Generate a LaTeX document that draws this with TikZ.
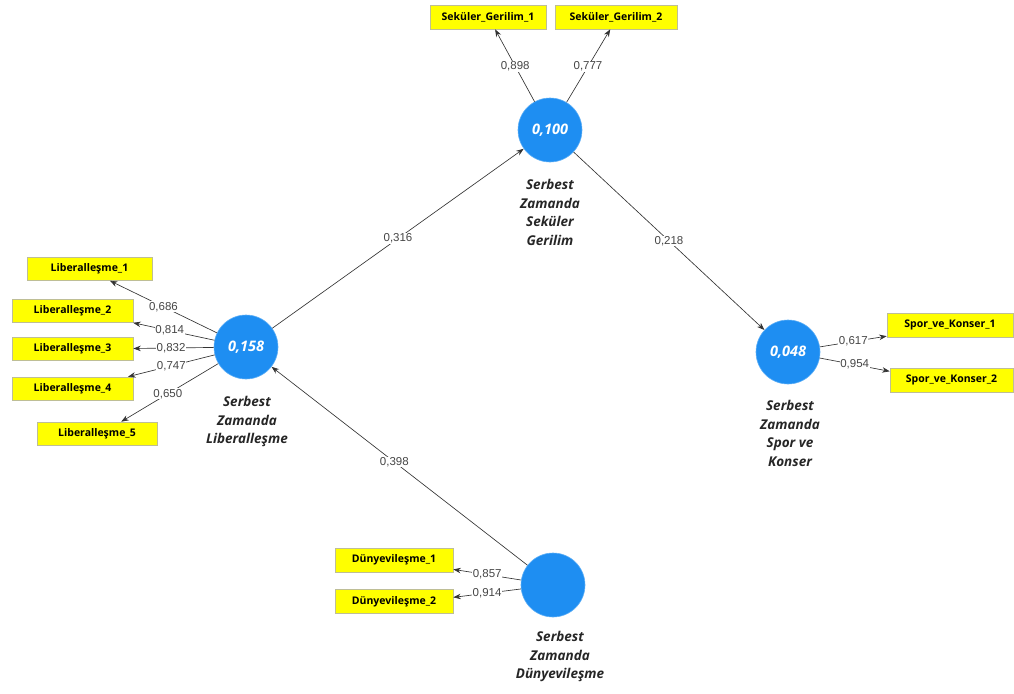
\documentclass[tikz,border=0pt]{standalone}
\usepackage{fontspec}
\usetikzlibrary{arrows.meta}
\setmainfont{Open Sans}
\newfontfamily\numfont{Liberation Sans}
\definecolor{lvblue}{RGB}{30,142,242}
\definecolor{indyel}{RGB}{255,255,0}
\definecolor{indbord}{RGB}{190,190,150}
\definecolor{coefgray}{RGB}{70,70,70}
\begin{document}
\begin{tikzpicture}[x=1pt,y=-1pt,
  latent/.style={circle,fill=lvblue,draw=lvblue!70!white,line width=0.6pt,minimum size=64pt,inner sep=0pt,
    text=white,font=\fontsize{14.5}{16}\selectfont\bfseries\itshape},
  indbox/.style={rectangle,fill=indyel,draw=indbord,line width=0.6pt,minimum height=23pt,inner sep=0pt,
    font=\fontsize{10.5}{12}\selectfont\bfseries},
  lvname/.style={align=center,font=\fontsize{13.5}{18.5}\selectfont\bfseries\itshape,text=black!85},
  coef/.style={fill=white,inner sep=0.6pt,font=\numfont\fontsize{11.5}{12}\selectfont,text=coefgray},
  arr/.style={-{Stealth[length=7.5pt,width=5.5pt]},draw=black!80,line width=0.65pt}]
\useasboundingbox (0,0) rectangle (1014,693);
% latent variables
\node[latent] (lib) at (246,347) {0,158};
\node[latent] (sek) at (550,130) {0,100};
\node[latent] (spor) at (788,352) {0,048};
\node[latent] (dun) at (553,585) {};
% latent names
\node[lvname,anchor=north] (libn) at (247,393) {Serbest\\Zamanda\\Liberalleşme};
\node[lvname,anchor=north] (sekn) at (550,176) {Serbest\\Zamanda\\Seküler\\Gerilim};
\node[lvname,anchor=north] (sporn) at (790,397) {Serbest\\Zamanda\\Spor ve\\Konser};
\node[lvname,anchor=north] (dunn) at (560,628) {Serbest\\Zamanda\\Dünyevileşme};
% indicators
\node[indbox,minimum width=125pt] (l1) at (89.5,269) {Liberalleşme\_1};
\node[indbox,minimum width=121pt] (l2) at (72.5,311) {Liberalleşme\_2};
\node[indbox,minimum width=121pt] (l3) at (72.5,348.5) {Liberalleşme\_3};
\node[indbox,minimum width=121pt] (l4) at (72.5,388.5) {Liberalleşme\_4};
\node[indbox,minimum width=120pt] (l5) at (97,433.5) {Liberalleşme\_5};
\node[indbox,minimum width=116pt,minimum height=24pt] (s1) at (488,17) {Seküler\_Gerilim\_1};
\node[indbox,minimum width=122pt,minimum height=24pt] (s2) at (616,17) {Seküler\_Gerilim\_2};
\node[indbox,minimum width=126pt,minimum height=24pt] (k1) at (950,325) {Spor\_ve\_Konser\_1};
\node[indbox,minimum width=123pt,minimum height=24pt] (k2) at (951.5,380) {Spor\_ve\_Konser\_2};
\node[indbox,minimum width=118pt,minimum height=24pt] (d1) at (394,560) {Dünyevileşme\_1};
\node[indbox,minimum width=118pt,minimum height=24pt] (d2) at (394,601.5) {Dünyevileşme\_2};
% structural paths
\draw[arr] (lib) -- node[coef,pos=0.5] {0,316} (sek);
\draw[arr] (sek) -- node[coef,pos=0.5] {0,218} (spor);
\draw[arr] (dun) -- node[coef,pos=0.52] {0,398} (lib);
% loadings
\draw[arr] (lib) -- node[coef,pos=0.5] {0,686} (l1.-30);
\draw[arr] (lib) -- node[coef,pos=0.55] {0,814} (l2.-11);
\draw[arr] (lib) -- node[coef,pos=0.53] {0,832} (l3.east);
\draw[arr] (lib) -- node[coef,pos=0.5] {0,747} (l4.12);
\draw[arr] (lib) -- node[coef,pos=0.52] {0,650} (l5.26);
\draw[arr] (sek) -- node[coef,pos=0.49] {0,898} (s1.-60);
\draw[arr] (sek) -- node[coef,pos=0.49] {0,777} (s2.-115);
\draw[arr] (spor) -- node[coef,pos=0.5] {0,617} (k1.190);
\draw[arr] (spor) -- node[coef,pos=0.5] {0,954} (k2.172);
\draw[arr] (dun) -- node[coef,pos=0.5] {0,857} (d1.-9);
\draw[arr] (dun) -- node[coef,pos=0.5] {0,914} (d2.4);
\end{tikzpicture}
\end{document}
